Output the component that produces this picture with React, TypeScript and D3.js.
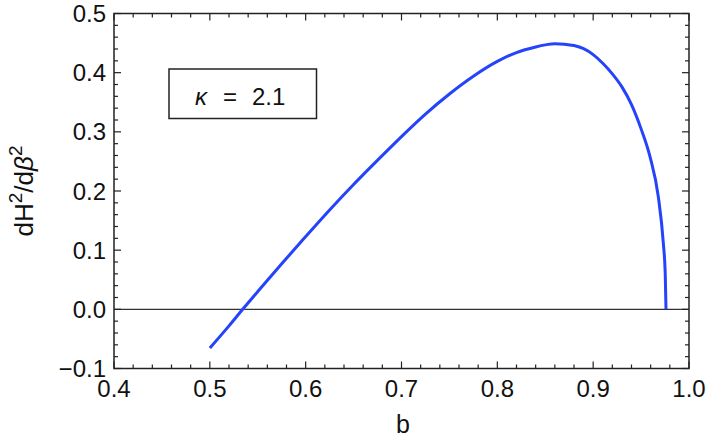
import React from "react";
import * as d3 from "d3";

const bValues = [0.5, 0.52, 0.5343, 0.55, 0.575, 0.6, 0.625, 0.65, 0.675, 0.7, 0.725, 0.75, 0.775, 0.8, 0.82, 0.84, 0.85, 0.86, 0.87, 0.88, 0.89, 0.9, 0.91, 0.92, 0.93, 0.94, 0.95, 0.9593, 0.968, 0.9732, 0.9752, 0.976];
const dValues = [-0.0655, -0.028, 0.0, 0.03, 0.077, 0.123, 0.168, 0.211, 0.252, 0.292, 0.33, 0.364, 0.394, 0.419, 0.434, 0.4435, 0.447, 0.449, 0.4482, 0.4458, 0.4405, 0.4305, 0.416, 0.398, 0.376, 0.346, 0.305, 0.258, 0.19, 0.112, 0.06, 0.0];
const xTicks = [0.4, 0.5, 0.6, 0.7, 0.8, 0.9, 1.0];
const yTicks = [-0.1, 0.0, 0.1, 0.2, 0.3, 0.4, 0.5];
const legendValue = "2.1";

export default function App() {
  const W = 707, H = 446;
  const L = 114, R = 689, T = 13.5, B = 368.5;
  const x = d3.scaleLinear().domain([0.4, 1.0]).range([L, R]);
  const y = d3.scaleLinear().domain([-0.1, 0.5]).range([B, T]);
  const pts = bValues.map((b, i) => [b, dValues[i]] as [number, number]);
  const line = d3.line<[number, number]>().x(d => x(d[0])).y(d => y(d[1])).curve(d3.curveMonotoneX);
  const minorX = d3.range(0, 31).map(i => 0.4 + i * 0.02);
  const minorY = d3.range(0, 31).map(i => -0.1 + i * 0.02);
  const isMajor = (v: number) => Math.abs(v * 10 - Math.round(v * 10)) < 1e-6;
  const font = "'Liberation Sans', Arial, sans-serif";
  const tc = "#222";
  const txt = "#111";
  return (
    <svg width={W} height={H} style={{ position: "absolute", left: 0, top: 0, background: "#fff" }}>
      <rect x={0} y={0} width={W} height={H} fill="#fff" />
      <line x1={L} x2={R} y1={y(0)} y2={y(0)} stroke="#333" strokeWidth={1.2} />
      {minorX.map((v, i) => {
        const len = isMajor(v) ? 7 : 4;
        return (
          <g key={"tx" + i}>
            <line x1={x(v)} x2={x(v)} y1={B} y2={B - len} stroke={tc} strokeWidth={1.2} />
            <line x1={x(v)} x2={x(v)} y1={T} y2={T + len} stroke={tc} strokeWidth={1.2} />
          </g>
        );
      })}
      {minorY.map((v, i) => {
        const len = isMajor(v) ? 7 : 4;
        return (
          <g key={"ty" + i}>
            <line x1={L} x2={L + len} y1={y(v)} y2={y(v)} stroke={tc} strokeWidth={1.2} />
            <line x1={R} x2={R - len} y1={y(v)} y2={y(v)} stroke={tc} strokeWidth={1.2} />
          </g>
        );
      })}
      <rect x={L} y={T} width={R - L} height={B - T} fill="none" stroke={tc} strokeWidth={1.5} />
      <path d={line(pts) || ""} fill="none" stroke="#2443fb" strokeWidth={3} strokeLinejoin="round" />
      {xTicks.map((v, i) => (
        <text key={"xl" + i} x={x(v)} y={397} textAnchor="middle" fontFamily={font} fontSize={24} fill={txt}>
          {v.toFixed(1)}
        </text>
      ))}
      {yTicks.map((v, i) => (
        <text key={"yl" + i} x={106} y={y(v) + 8.5} textAnchor="end" fontFamily={font} fontSize={24} fill={txt}>
          {(v < 0 ? "\u2212" : "") + Math.abs(v).toFixed(1)}
        </text>
      ))}
      <text x={403} y={433} textAnchor="middle" fontFamily={font} fontSize={25} fill={txt}>b</text>
      <text transform={`translate(33, ${(T + B) / 2}) rotate(-90)`} textAnchor="middle" fontFamily={font} fontSize={26} fill={txt}>
        dH<tspan dy={-11} fontSize={19}>2</tspan><tspan dy={11}>/d</tspan><tspan fontStyle="italic">β</tspan><tspan dy={-11} fontSize={19}>2</tspan>
      </text>
      <rect x={169} y={69} width={147.5} height={49.5} fill="#fff" stroke={tc} strokeWidth={1.5} />
      <text x={195} y={105} fontFamily={font} fontSize={24} fill={txt} fontStyle="italic">κ</text>
      <text x={230} y={105} textAnchor="middle" fontFamily={font} fontSize={24} fill={txt}>=</text>
      <text x={252} y={105} fontFamily={font} fontSize={24} fill={txt}>{legendValue}</text>
    </svg>
  );
}
